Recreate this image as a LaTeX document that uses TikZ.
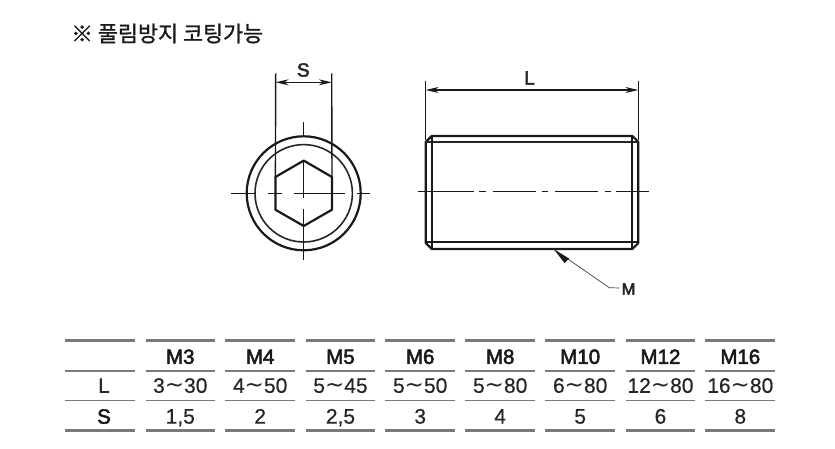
\documentclass[tikz,border=0pt]{standalone}
\usepackage{fontspec}
\setmainfont{Liberation Sans}
\newfontfamily\cjkfont[FakeBold=1.2]{Noto Sans CJK KR}
\newfontfamily\symfont{DejaVu Sans}
\newfontfamily\cellfont[FakeBold=0.6]{Liberation Sans}
\newfontfamily\hdrfont[FakeBold=2.6]{Liberation Sans}
\newfontfamily\lblfont[FakeBold=2.8]{Liberation Sans}
\usetikzlibrary{arrows.meta}
\newcommand{\wv}{{\symfont\fontsize{23}{20}\selectfont ∼}}
\tikzset{
  x=1pt,y=-1pt,
  obj/.style={line width=2.2pt,black!90,line join=round},
  objthin/.style={line width=1.6pt,black!85},
  center/.style={line width=1.4pt,black!90},
  dimline/.style={line width=1.2pt,black!90,{Stealth[length=13pt,width=6pt]}-{Stealth[length=13pt,width=6pt]}},
  extline/.style={line width=1.4pt,black!90},
  leaderline/.style={line width=0.7pt,black!75},
  label/.style={font=\lblfont\fontsize{19}{19}\selectfont,text=black!85,inner sep=0pt},
  thick rule/.style={line width=3pt,black!52},
  thin rule/.style={line width=1.5pt,black!52},
  hdr/.style={font=\hdrfont\fontsize{20.5}{20}\selectfont,text=black!90,inner sep=0pt,anchor=base},
  cell/.style={font=\cellfont\fontsize{21}{21}\selectfont,text=black!85,inner sep=0pt,anchor=base},
}
\begin{document}
\begin{tikzpicture}
\useasboundingbox (0,0) rectangle (835,449);
\node[anchor=west,inner sep=0pt,font=\cjkfont\fontsize{21.8}{22}\selectfont,text=black!90] (title) at (71,33.5) {※ 풀림방지 코팅가능};

% --- End view
\coordinate (c) at (303.7,193.3);
\draw[obj] (c) circle (57);
\draw[objthin] (c) circle (48.7);
\draw[obj] (303.7,160.6) coordinate (h1) -- (332,177) coordinate (h2) -- (332,209.7) -- (303.7,226) -- (275.4,209.7) -- (275.4,177) coordinate (h6) -- cycle;
\foreach \a/\b in {231/255,268/282,294/345,357/370}
  \draw[center] (\a,193.3) -- (\b,193.3);
\foreach \a/\b in {122/137.5,160.7/198,209.5/260}
  \draw[center] (303.7,\a) -- (303.7,\b);
\coordinate (sa) at (275.7,73.5);
\coordinate (sb) at (331.7,73.5);
\draw[extline] (sa) -- (h6);
\draw[extline] (sb) -- (h2);
\draw[dimline] (275.7,82.3) coordinate (sl) -- (331.7,82.3) coordinate (sr);
\node[label] (slabel) at (303.3,70) {S};

% --- Side view
\draw[obj] (431.7,136) -- (632.3,136) -- (638.3,142) -- (638.3,243) -- (632.3,249) -- (431.7,249) -- (425.7,243) -- (425.7,142) -- cycle;
\draw[objthin] (425.7,142.3) -- (638.3,142.3);
\draw[obj,line width=1.8pt] (425.7,241.7) -- (638.3,241.7);
\draw[obj,line width=1.9pt] (431.7,136) -- (431.7,249);
\draw[obj,line width=1.9pt] (632.3,136) -- (632.3,249);
\foreach \a/\b in {417.5/474,479/486,492.5/536,541.5/548,554.5/598,604.5/611,616/648.5}
  \draw[center] (\a,191.7) -- (\b,191.7);
\draw[extline] (425.7,81) coordinate (la) -- (425.7,140);
\draw[extline] (638.3,81) coordinate (lb) -- (638.3,140);
\draw[dimline] (425.7,90) coordinate (ll) -- (638.3,90) coordinate (lr);
\node[label] (llabel) at (529.5,78) {L};

% --- Leader
\node[label,font=\lblfont\fontsize{16.5}{17}\selectfont] (mlabel) at (628.5,289) {M};
\coordinate (mtip) at (554,249.4);
\draw[leaderline] (mlabel.west) ++(-2,-1) coordinate (mend) -- (609.3,287.7) coordinate (mknee) -- (mtip);
\fill[black!90] (mtip) -- (569,258.5) -- (564.5,263) -- cycle;

% --- Table
\foreach \l/\r in {65.3/135,145.7/215,225.3/295,305.7/375.3,385.3/455,465.3/535,545.3/615,625.7/695.3,705.3/775.3}{
  \draw[thick rule] (\l,340.7) -- (\r,340.7);
  \draw[thin rule] (\l,371) -- (\r,371);
  \draw[thin rule] (\l,400.7) -- (\r,400.7);
  \draw[thick rule] (\l,430) -- (\r,430);
}
\node[cell] (rowL) at (104,392.8) {L};
\node[hdr] (rowS) at (104,423.6) {S};
\foreach \n/\x/\h/\l/\s in {a/180.3/M3/3\wv30/{1,5},b/260.2/M4/4\wv50/2,c/340.5/M5/5\wv45/{2,5},d/420.2/M6/5\wv50/3,e/500.2/M8/5\wv80/4,f/580.2/M10/6\wv80/5,g/660.5/M12/12\wv80/6,h/740.3/M16/16\wv80/8}{
  \node[hdr] (h\n) at (\x,363.8) {\h};
  \node[cell] (l\n) at (\x,392.8) {\l};
  \node[cell] (s\n) at (\x,423.6) {\s};
}
\end{tikzpicture}
\end{document}
